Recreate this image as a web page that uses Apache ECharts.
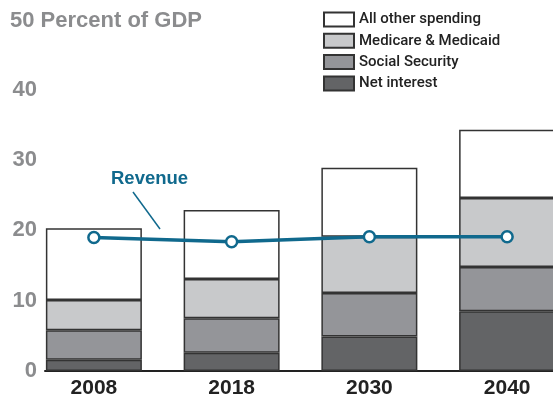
<!DOCTYPE html>
<html><head><meta charset="utf-8">
<script src="https://cdn.jsdelivr.net/npm/echarts@6/dist/echarts.min.js"></script>
<style>html,body{margin:0;padding:0;background:#fff}#c{width:553px;height:397px}</style>
</head><body><div id="c"></div>
<script>
const categories = ['2008', '2018', '2030', '2040'];
const netInterest = [1.6, 2.6, 4.9, 8.5];
const socialSecurity = [4.2, 4.9, 6.2, 6.3];
const medicare = [4.3, 5.6, 8.0, 9.8];
const allOther = [10.2, 9.8, 9.8, 9.7];
const revenue = [19.0, 18.4, 19.1, 19.1];
const yTicks = [0, 10, 20, 30, 40, 50];

const chart = echarts.init(document.getElementById('c'), null, {renderer: 'canvas'});
const teal = '#10698d';
const border = {borderColor: '#333', borderWidth: 1.5};
function barSeries(name, data, color) {
  return {name, type: 'bar', stack: 's', data, barWidth: 96, xAxisIndex: 0, yAxisIndex: 0,
    itemStyle: Object.assign({color}, border), emphasis: {disabled: true}};
}
const option = {
  animation: false,
  title: {text: yTicks[5] + ' Percent of GDP', left: 10, top: 10, padding: 0,
    textStyle: {fontFamily: 'Liberation Sans', fontWeight: 'bold', fontSize: 22, color: '#8b8c8e'}},
  legend: {orient: 'vertical', left: 323, top: 11.5, padding: 0, itemWidth: 30, itemHeight: 14, itemGap: 5.3,
    icon: 'rect', selectedMode: false,
    data: ['All other spending', 'Medicare & Medicaid', 'Social Security', 'Net interest'],
    textStyle: {fontFamily: 'Roboto', fontWeight: 500, fontSize: 15, color: '#222', lineHeight: 14, height: 14}},
  grid: [
    {left: 25, width: 551, top: 19.5, bottom: 26, outerBoundsMode: 'none', containLabel: false},
    {left: 45, right: 0, top: 19.5, bottom: 26, outerBoundsMode: 'none', containLabel: false}
  ],
  xAxis: [
    {type: 'category', data: categories, gridIndex: 0, axisLine: {show: false}, axisTick: {show: false},
      axisLabel: {fontFamily: 'Liberation Sans', fontWeight: 'bold', fontSize: 21, color: '#222', margin: 7}},
    {type: 'value', gridIndex: 1, min: 0, max: 1, axisLine: {show: true, onZero: false, lineStyle: {color: '#222', width: 2}},
      axisTick: {show: false}, axisLabel: {show: false}, splitLine: {show: false}}
  ],
  yAxis: [
    {type: 'value', gridIndex: 0, min: 0, max: 50, interval: 10, axisLine: {show: false}, axisTick: {show: false},
      axisLabel: {show: false}, splitLine: {show: false}},
    {type: 'value', gridIndex: 1, min: 0, max: 50, interval: 10, axisLine: {show: false}, axisTick: {show: false},
      splitLine: {show: false},
      axisLabel: {margin: 8, fontFamily: 'Liberation Sans', fontWeight: 'bold', fontSize: 22, color: '#8b8c8e',
        formatter: v => (v === 50 ? '' : String(v))}}
  ],
  series: [
    barSeries('Net interest', netInterest, '#636466'),
    barSeries('Social Security', socialSecurity, '#949599'),
    barSeries('Medicare & Medicaid', medicare, '#c8c9cb'),
    barSeries('All other spending', allOther, '#ffffff'),
    {name: 'Revenue', type: 'line', data: revenue, xAxisIndex: 0, yAxisIndex: 0, z: 5,
      symbol: 'circle', symbolSize: 11, showSymbol: true,
      lineStyle: {color: teal, width: 3.5},
      itemStyle: {color: '#fff', borderColor: teal, borderWidth: 2.5},
      emphasis: {disabled: true}}
  ],
  graphic: [
    {type: 'text', left: 111, top: 169, style: {text: 'Revenue', fill: teal,
      font: 'bold 18.5px "Liberation Sans"'}},
    {type: 'line', shape: {x1: 133, y1: 192, x2: 160, y2: 229}, style: {stroke: teal, lineWidth: 1.5}}
  ]
};
chart.setOption(option);
</script></body></html>
